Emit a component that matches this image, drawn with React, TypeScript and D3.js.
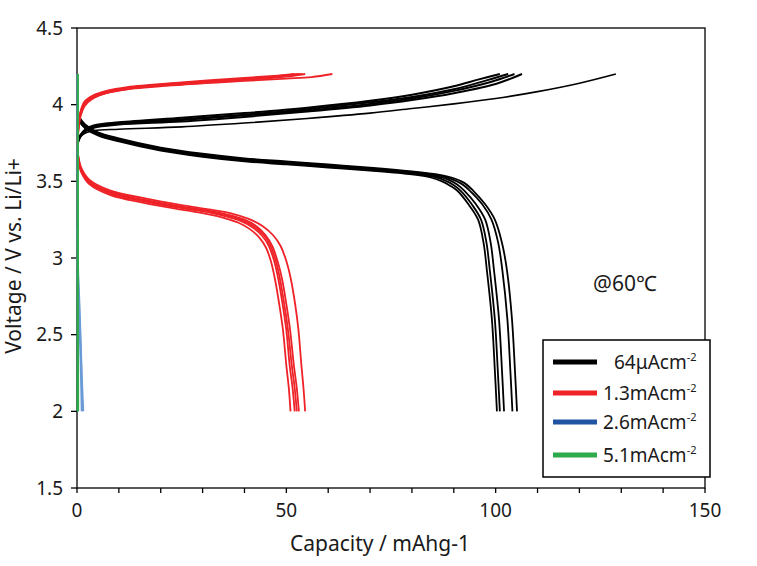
import React from "react";
import * as d3 from "d3";

type P = [number, number];

const xTicks = [0, 50, 100, 150];
const xMinorTicks = [0, 10, 20, 30, 40, 50, 60, 70, 80, 90, 100, 110, 120, 130, 140, 150];
const yTicks = [1.5, 2, 2.5, 3, 3.5, 4, 4.5];

// 64 µA/cm2 discharge
const blackDis: P[][] = [
  [[0.5,3.92],[2,3.87],[5,3.82],[10,3.78],[20,3.72],[30,3.68],[40,3.65],[50,3.63],[60,3.61],[70,3.59],[80,3.565],[86,3.545],[90,3.52],[92.5,3.49],[94.6,3.44],[97.5,3.35],[99.8,3.25],[101.5,3.1],[102.7,2.92],[103.9,2.6],[104.6,2.27],[105.1,2.0]],
  [[0.5,3.91],[2,3.86],[5,3.815],[10,3.775],[20,3.715],[30,3.675],[40,3.645],[50,3.625],[60,3.605],[70,3.585],[80,3.56],[86,3.54],[89.5,3.515],[91.8,3.485],[93.8,3.44],[96.8,3.35],[99,3.25],[100.6,3.1],[101.6,2.92],[102.8,2.6],[103.5,2.27],[104,2.0]],
  [[0.5,3.9],[2,3.855],[5,3.81],[10,3.77],[20,3.71],[30,3.67],[40,3.64],[50,3.62],[60,3.6],[70,3.58],[80,3.555],[85.5,3.535],[88.8,3.51],[90.8,3.48],[92.5,3.44],[95.3,3.35],[97.5,3.25],[98.8,3.1],[99.6,2.92],[100.8,2.6],[101.5,2.27],[102,2.0]],
  [[0.5,3.895],[2,3.85],[5,3.805],[10,3.765],[20,3.705],[30,3.665],[40,3.635],[50,3.615],[60,3.595],[70,3.575],[80,3.55],[85,3.53],[88,3.505],[90,3.475],[91.6,3.44],[94.3,3.35],[96.5,3.25],[97.8,3.1],[98.6,2.92],[99.8,2.6],[100.5,2.27],[101,2.0]],
  [[0.5,3.89],[2,3.845],[5,3.8],[10,3.76],[20,3.7],[30,3.66],[40,3.63],[50,3.61],[60,3.59],[70,3.57],[80,3.545],[84.5,3.525],[87.2,3.5],[89.2,3.47],[90.8,3.44],[93.5,3.35],[95.8,3.25],[97.1,3.1],[97.9,2.92],[99.1,2.6],[99.8,2.27],[100.3,2.0]],
];

// 64 µA/cm2 charge
const blackChg: P[][] = [
  [[0.2,3.75],[0.8,3.79],[2,3.815],[4,3.83],[10,3.84],[25,3.855],[40,3.88],[55,3.91],[70,3.945],[80,3.975],[90,4.005],[100,4.04],[110,4.085],[120,4.14],[128.7,4.2]],
  [[0.2,3.76],[0.8,3.8],[2,3.84],[4,3.865],[10,3.885],[25,3.915],[40,3.945],[55,3.98],[70,4.025],[80,4.065],[90,4.12],[96,4.165],[101,4.2]],
  [[0.2,3.76],[0.8,3.8],[2,3.835],[4,3.86],[10,3.88],[25,3.905],[40,3.935],[55,3.97],[70,4.015],[80,4.05],[90,4.1],[98,4.16],[103,4.2]],
  [[0.2,3.755],[0.8,3.795],[2,3.83],[4,3.855],[10,3.875],[25,3.9],[40,3.93],[55,3.962],[70,4.005],[80,4.04],[90,4.09],[99,4.15],[104.5,4.2]],
  [[0.2,3.75],[0.8,3.79],[2,3.825],[4,3.85],[10,3.87],[25,3.89],[40,3.92],[55,3.955],[70,3.995],[80,4.03],[90,4.075],[100,4.135],[106.3,4.2]],
];

// 1.3 mA/cm2 charge
const redChg: P[][] = [
  [[0.15,3.72],[0.4,3.85],[0.9,3.93],[1.8,3.99],[3.8,4.04],[7,4.075],[12,4.1],[25,4.13],[40,4.155],[50,4.17],[56,4.18],[61,4.2]],
  [[0.15,3.75],[0.4,3.88],[0.9,3.96],[1.8,4.02],[3.8,4.06],[7,4.09],[12,4.115],[25,4.145],[40,4.175],[48,4.19],[52,4.2]],
  [[0.15,3.75],[0.4,3.875],[0.9,3.955],[1.8,4.015],[3.8,4.055],[7,4.085],[12,4.11],[25,4.14],[40,4.17],[49,4.188],[53,4.2]],
  [[0.15,3.745],[0.4,3.87],[0.9,3.95],[1.8,4.01],[3.8,4.05],[7,4.08],[12,4.106],[25,4.137],[40,4.165],[50,4.188],[53.8,4.2]],
  [[0.15,3.74],[0.4,3.865],[0.9,3.945],[1.8,4.005],[3.8,4.045],[7,4.075],[12,4.102],[25,4.133],[40,4.16],[50,4.183],[54.5,4.2]],
];

// 1.3 mA/cm2 discharge
const redDis: P[][] = [
  [[0.3,3.67],[1,3.59],[3,3.51],[8,3.44],[16,3.39],[25,3.345],[32,3.315],[37,3.29],[41,3.255],[44.2,3.21],[46.8,3.15],[48.6,3.08],[50,2.98],[51.1,2.86],[52.1,2.7],[52.9,2.53],[53.6,2.3],[54.1,2.15],[54.5,2.0]],
  [[0.3,3.66],[1,3.58],[3,3.5],[8,3.43],[16,3.38],[25,3.335],[32,3.305],[36.5,3.28],[40,3.25],[42.7,3.21],[45,3.15],[46.6,3.08],[47.9,2.98],[49,2.86],[50,2.7],[50.9,2.53],[51.8,2.3],[52.5,2.15],[53,2.0]],
  [[0.3,3.655],[1,3.575],[3,3.495],[8,3.425],[16,3.375],[25,3.33],[32,3.3],[36.2,3.275],[39.6,3.245],[42.3,3.205],[44.6,3.15],[46.2,3.08],[47.5,2.98],[48.5,2.86],[49.5,2.7],[50.4,2.53],[51.3,2.3],[52,2.15],[52.5,2.0]],
  [[0.3,3.65],[1,3.57],[3,3.49],[8,3.42],[16,3.37],[25,3.325],[32,3.295],[35.8,3.27],[39.2,3.24],[41.9,3.2],[44.2,3.145],[45.8,3.08],[47.1,2.98],[48.1,2.86],[49.1,2.7],[50,2.53],[50.8,2.3],[51.5,2.15],[52,2.0]],
  [[0.3,3.64],[1,3.56],[3,3.48],[8,3.41],[16,3.36],[25,3.315],[31.5,3.285],[35.3,3.26],[38.6,3.23],[41.2,3.19],[43.5,3.135],[45.1,3.07],[46.3,2.98],[47.3,2.86],[48.3,2.7],[49.2,2.53],[50,2.3],[50.6,2.15],[51,2.0]],
];

// 2.6 mA/cm2
const blueCurves: P[][] = [
  [[0.2,2.0],[0.12,3.0],[0.08,4.2]],
  [[0.1,3.2],[0.3,2.9],[0.6,2.7],[0.9,2.45],[1.2,2.2],[1.5,2.0]],
  [[0.1,3.0],[0.35,2.8],[0.7,2.55],[1.0,2.3],[1.3,2.0]],
  [[0.1,2.9],[0.4,2.7],[0.8,2.4],[1.0,2.15],[1.1,2.0]],
];

// 5.1 mA/cm2
const greenCurves: P[][] = [
  [[0.1,2.0],[0.15,3.5],[0.2,4.2]],
  [[0.2,4.2],[0.25,3.0],[0.3,2.0]],
];

const legendItems = [
  { label: "64μAcm", color: "#000000", dx: 11 },
  { label: "1.3mAcm", color: "#ee2227", dx: 0 },
  { label: "2.6mAcm", color: "#2153a3", dx: 0 },
  { label: "5.1mAcm", color: "#2eaa4a", dx: 0 },
];

const W = 757, H = 566;
const L = 77, R = 705, T = 28, B = 488;
const FONT = "'Noto Sans', 'Open Sans', sans-serif";

export default function App() {
  const x = d3.scaleLinear().domain([0, 150]).range([L, R]);
  const y = d3.scaleLinear().domain([1.5, 4.5]).range([B, T]);
  const smooth = d3.line<P>().x(d => x(d[0])).y(d => y(d[1])).curve(d3.curveCatmullRom.alpha(0.5));
  const straight = d3.line<P>().x(d => x(d[0])).y(d => y(d[1]));

  const legendRows = [362, 393, 422, 455];

  return (
    <svg width={W} height={H} style={{ position: "absolute", left: 0, top: 0, background: "#fff" }} fontFamily={FONT}>
      <rect x={0} y={0} width={W} height={H} fill="#fff" />
      {/* frame */}
      <rect x={L} y={T} width={R - L} height={B - T} fill="none" stroke="#000" strokeWidth={1.3} />
      {/* y ticks */}
      {yTicks.map(t => (
        <g key={"y" + t}>
          <line x1={L - 6} x2={L} y1={y(t)} y2={y(t)} stroke="#000" strokeWidth={1.3} />
          <text x={L - 14} y={y(t)} dy="0.35em" textAnchor="end" fontSize={19} fill="#1a1a1a">{t}</text>
        </g>
      ))}
      {/* x ticks */}
      {xMinorTicks.map(t => (
        <line key={"xm" + t} x1={x(t)} x2={x(t)} y1={B} y2={B + 5} stroke="#000" strokeWidth={1.3} />
      ))}
      {xTicks.map(t => (
        <text key={"x" + t} x={x(t)} y={B + 29} textAnchor="middle" fontSize={19} fill="#1a1a1a">{t}</text>
      ))}
      <text x={380} y={551} textAnchor="middle" fontSize={21} fill="#1a1a1a">Capacity / mAhg-1</text>
      <text transform={`translate(21,256) rotate(-90)`} textAnchor="middle" fontSize={21} fill="#1a1a1a">Voltage / V vs. Li/Li+</text>

      {/* curves */}
      {blackChg.map((c, i) => (
        <path key={"bc" + i} d={smooth(c) || ""} fill="none" stroke="#000" strokeWidth={i === 0 ? 1.6 : 2} />
      ))}
      {blackDis.map((c, i) => (
        <path key={"bd" + i} d={smooth(c) || ""} fill="none" stroke="#000" strokeWidth={1.8} />
      ))}
      {redChg.map((c, i) => (
        <path key={"rc" + i} d={smooth(c) || ""} fill="none" stroke="#ee2227" strokeWidth={1.8} />
      ))}
      {redDis.map((c, i) => (
        <path key={"rd" + i} d={smooth(c) || ""} fill="none" stroke="#ee2227" strokeWidth={1.8} />
      ))}
      {blueCurves.map((c, i) => (
        <path key={"bl" + i} d={straight(c) || ""} fill="none" stroke="#6a9bd6" strokeWidth={1.8} />
      ))}
      {greenCurves.map((c, i) => (
        <path key={"gr" + i} d={straight(c) || ""} fill="none" stroke="#2eaa4a" strokeWidth={1.8} />
      ))}

      <text x={593} y={291} fontSize={21} fill="#1a1a1a">@60℃</text>

      {/* legend */}
      <rect x={543} y={340} width={167} height={137} fill="#fff" stroke="#000" strokeWidth={1.5} />
      {legendItems.map((it, i) => (
        <g key={"lg" + i}>
          <line x1={553} x2={597} y1={legendRows[i]} y2={legendRows[i]} stroke={it.color} strokeWidth={5} />
          <text x={603 + it.dx} y={legendRows[i]} dy="0.36em" fontSize={19} fill="#1a1a1a">
            {it.label}
            <tspan fontSize={11} dy="-0.75em">-2</tspan>
          </text>
        </g>
      ))}
    </svg>
  );
}
